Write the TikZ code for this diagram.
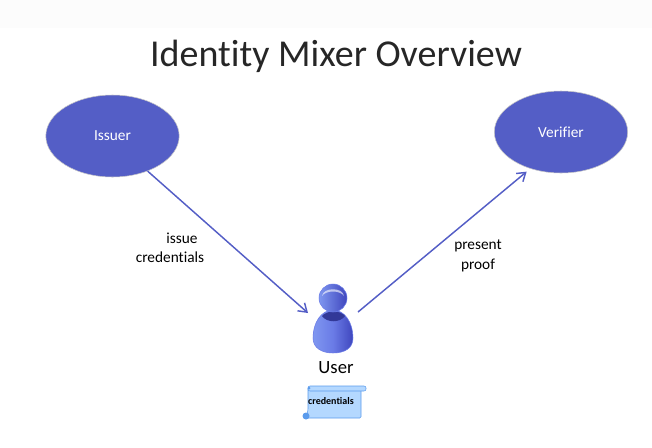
\documentclass[tikz,border=0pt]{standalone}
\usepackage{fontspec}
\setmainfont[RawFeature=-liga]{Carlito}
\definecolor{partyblue}{HTML}{545EC6}
\definecolor{scrollblue}{HTML}{B4D8FF}
\definecolor{scrolledge}{HTML}{5A9BEC}
\definecolor{userlight}{HTML}{7F97F0}
\definecolor{usermid}{HTML}{6A7BE6}
\definecolor{userdark}{HTML}{3F46BE}
\usetikzlibrary{shapes.geometric,arrows.meta}
\tikzset{
  party/.style={ellipse,fill=partyblue,draw=gray!45,thin,minimum width=100pt,minimum height=61.5pt,inner sep=0pt,text=white,font=\fontsize{11.5}{13}\selectfont},
  flow/.style={-{Straight Barb[length=6pt,width=8pt]},line width=1.1pt,draw=partyblue},
  note/.style={font=\fontsize{11.5}{13}\selectfont,inner sep=0pt}
}
\begin{document}
\begin{tikzpicture}[x=0.75pt,y=-0.75pt]
    \useasboundingbox (0,0) rectangle (652,447);
    % Top band
    \fill[black!1] (0,0) rectangle (652,28);
    % Title
    \node[inner sep=0pt,font=\fontsize{28.5}{34}\selectfont,text=black!85] (title) at (336,56) {Identity Mixer Overview};

    % Issuer and verifier
    \node[party] (issuer) at (112.5,136) {Issuer};
    \node[party] (verifier) at (561,132) {Verifier};

    % Free ends next to the user
    \coordinate (userin) at (308,313);
    \coordinate (userout) at (358,312);

    % Arrows
    \draw[flow] (issuer.-45) -- (userin);
    \draw[flow,shorten >=3.5pt] (userout) -- (verifier.230);

    % Arrow labels
    \node[note] (issue) at (182,238) {issue};
    \node[note] (cred) at (170,257) {credentials};
    \node[note] (present) at (478,246) {present};
    \node[note] (proof) at (478,265) {proof};

    % User figure
    \shade[left color=userlight,right color=userdark,middle color=usermid,draw=usermid,thin]
      (333,310) .. controls (321,310) and (313,323) .. (313,338)
      .. controls (313,348) and (322,353) .. (333,353)
      .. controls (345,353) and (353,348) .. (353,338)
      .. controls (353,323) and (345,310) .. (333,310) -- cycle;
    \fill[userdark!80!black] (322,316) .. controls (327,310) and (340,310) .. (345,316)
      .. controls (340,323) and (327,323) .. (322,316) -- cycle;
    \shade[left color=userlight,right color=userdark,draw=usermid,thin]
      (333,298) circle [radius=14];
    \fill[white,opacity=0.6] (322,296) .. controls (323,287) and (343,287) .. (344,296)
      .. controls (340,290) and (326,290) .. (322,296) -- cycle;
    \node[inner sep=0pt,font=\fontsize{14}{16}\selectfont] (user) at (336,368) {User};

    % Scroll
    \draw[fill=scrollblue,draw=scrolledge,thin,rounded corners=1pt] (308,388) -- (361,388) -- (361,418) -- (306,418) -- (308,410) -- cycle;
    \draw[fill=scrollblue,draw=scrolledge,thin,rounded corners=1.5pt] (308,386) rectangle (366,391);
    \fill[scrolledge] (306,416) circle [radius=3.5];
    \fill[scrolledge] (309,388) circle [radius=1.5];
    \node[inner sep=0pt,font=\bfseries\fontsize{7.5}{9}\selectfont] (scrolltext) at (331,401) {credentials};
\end{tikzpicture}
\end{document}
